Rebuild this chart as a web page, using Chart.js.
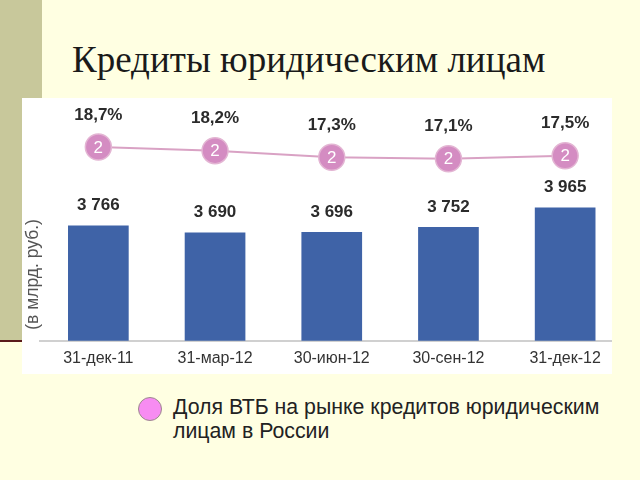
<!DOCTYPE html>
<html>
<head>
<meta charset="utf-8">
<script src="https://cdn.jsdelivr.net/npm/chart.js@4.4.0/dist/chart.umd.min.js"></script>
<style>
  body { margin: 0; width: 640px; height: 480px; background: #FFFFE2; position: relative; overflow: hidden; font-family: Arial, "Liberation Sans", sans-serif; }
  #strip { position: absolute; left: 0; top: 0; width: 42px; height: 340px; background: #C8C89B; }
  #rule { position: absolute; left: 0; top: 340px; width: 30px; height: 2px; background: #5A1A1A; }
  #title { position: absolute; left: 72px; top: 38px; font-family: "Liberation Serif", "Times New Roman", serif; font-size: 37px; color: #1A1A1A; white-space: nowrap; }
  #box { position: absolute; left: 22px; top: 98px; width: 590px; height: 276px; background: #FFFFFF; overflow: hidden; }
  #legend { position: absolute; left: 138px; top: 395px; }
  #legend .dot { position: absolute; left: 0; top: 2px; width: 22px; height: 22px; border-radius: 50%; background: #F78CF2; border: 1.5px solid #9A8C8C; }
  #legend .txt { position: absolute; left: 35px; top: 0; font-size: 21.3px; line-height: 24px; color: #222; white-space: nowrap; }
</style>
</head>
<body>
<div id="strip"></div>
<div id="rule"></div>
<div id="title">Кредиты юридическим лицам</div>
<div id="box"><canvas id="myChart" width="616" height="276"></canvas></div>
<div id="legend"><div class="dot"></div><div class="txt">Доля ВТБ на рынке кредитов юридическим<br>лицам в России</div></div>
<script>
// DATA
const categories = ['31-дек-11', '31-мар-12', '30-июн-12', '30-сен-12', '31-дек-12'];
const loans = [3766, 3690, 3696, 3752, 3965];
const loanLabels = ['3 766', '3 690', '3 696', '3 752', '3 965'];
const share = [18.7, 18.2, 17.3, 17.1, 17.5];
const shareLabels = ['18,7%', '18,2%', '17,3%', '17,1%', '17,5%'];
const rank = ['2', '2', '2', '2', '2'];
const unitTitle = '(в млрд. руб.)';

// labels over bars and points, rotated unit title
const valueLabels = {
  id: 'valueLabels',
  afterDatasetsDraw(chart) {
    const ctx = chart.ctx;
    const area = chart.chartArea;
    ctx.save();
    ctx.textAlign = 'center';
    ctx.textBaseline = 'middle';
    const bars = chart.getDatasetMeta(1).data;
    ctx.fillStyle = '#2B2B2B';
    ctx.font = 'bold 17px Arial';
    bars.forEach((b, i) => ctx.fillText(loanLabels[i], b.x, b.y - 20));
    const pts = chart.getDatasetMeta(0).data;
    pts.forEach((p, i) => {
      ctx.fillStyle = '#2B2B2B';
      ctx.font = 'bold 17px Arial';
      ctx.fillText(shareLabels[i], p.x, p.y - 32);
      ctx.fillStyle = '#FFFFFF';
      ctx.font = '17px Arial';
      ctx.fillText(rank[i], p.x, p.y + 1);
    });
    // unit title
    ctx.translate(area.left - 7, area.bottom - 11);
    ctx.rotate(-Math.PI / 2);
    ctx.textAlign = 'left';
    ctx.fillStyle = '#555';
    ctx.font = '17.5px Arial';
    ctx.fillText(unitTitle, 0, 0);
    ctx.restore();
  }
};

const ctx = document.getElementById('myChart');

new Chart(ctx, {
  data: {
    labels: categories,
    datasets: [{
      type: 'line',
      label: 'Доля ВТБ на рынке кредитов юридическим лицам в России',
      data: share,
      yAxisID: 'y2',
      borderColor: '#D9A2C4',
      borderWidth: 2,
      pointRadius: 13,
      pointBackgroundColor: '#D48CC2',
      pointBorderColor: '#E3B5D3',
      pointBorderWidth: 1.5,
      tension: 0
    }, {
      type: 'bar',
      label: 'Кредиты',
      data: loans,
      yAxisID: 'y',
      backgroundColor: '#3F63A7',
      barPercentage: 0.52,
      categoryPercentage: 1
    }]
  },
  plugins: [valueLabels],
  options: {
    responsive: false,
    animation: false,
    layout: { padding: { left: 18, right: 3, top: 2, bottom: 6 } },
    plugins: { legend: { display: false }, tooltip: { enabled: false } },
    scales: {
      x: {
        grid: { display: false },
        border: { color: '#D0D0D0', width: 2 },
        ticks: { color: '#333', font: { size: 16, family: 'Arial' }, padding: 0 }
      },
      y: {
        display: false,
        min: 2500,
        max: 5009
      },
      y2: {
        display: false,
        min: -7.7,
        max: 23.4
      }
    }
  }
});
</script>
</body>
</html>
